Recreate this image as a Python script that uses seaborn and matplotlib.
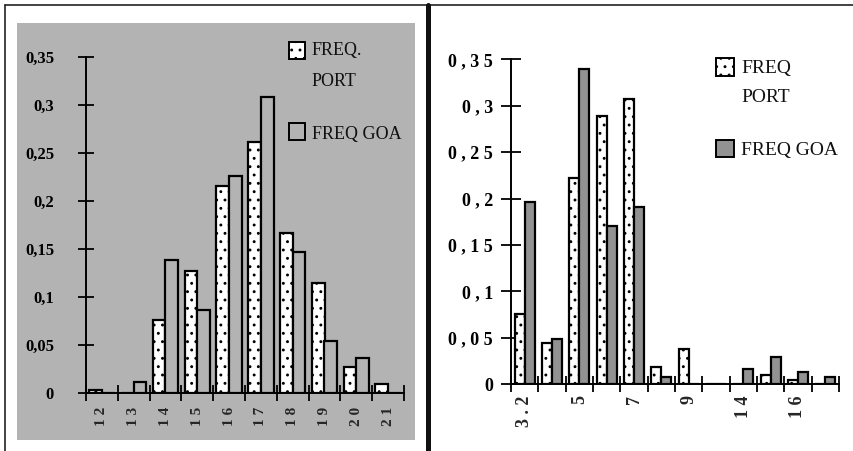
import matplotlib
matplotlib.use("Agg")
import matplotlib.pyplot as plt
import seaborn as sns
import pandas as pd
import numpy as np
from matplotlib.patches import Rectangle
from matplotlib.lines import Line2D

# ---------------- data ----------------
left_categories = ["12", "13", "14", "15", "16", "17", "18", "19", "20", "21"]
left_tick_labels = ["1 2", "1 3", "1 4", "1 5", "1 6", "1 7", "1 8", "1 9", "2 0", "2 1"]
left_port = [0.003, 0.0, 0.076, 0.127, 0.216, 0.262, 0.167, 0.114, 0.027, 0.009]
left_goa = [0.0, 0.011, 0.138, 0.086, 0.226, 0.309, 0.147, 0.054, 0.036, 0.0]
left_yticks = [0, 0.05, 0.1, 0.15, 0.2, 0.25, 0.3, 0.35]
left_ytick_labels = ["0", "0,05", "0,1", "0,15", "0,2", "0,25", "0,3", "0,35"]

right_categories = ["3.2", "4", "5", "6", "7", "8", "9", "10", "14", "15", "16", "17"]
right_tick_labels = ["3 . 2", "", "5", "", "7", "", "9", "", "1 4", "", "1 6", ""]
right_port = [0.076, 0.044, 0.222, 0.289, 0.307, 0.019, 0.038, 0.0, 0.0, 0.010, 0.005, 0.0]
right_goa = [0.196, 0.049, 0.340, 0.170, 0.191, 0.008, 0.0, 0.0, 0.017, 0.029, 0.013, 0.008]
right_yticks = [0, 0.05, 0.1, 0.15, 0.2, 0.25, 0.3, 0.35]
right_ytick_labels = ["0", "0 , 0 5", "0 , 1", "0 , 1 5", "0 , 2", "0 , 2 5", "0 , 3", "0 , 3 5"]

series_names = ["PORT", "GOA"]

# ---------------- style ----------------
sns.set_theme(style="white")
plt.rcParams["font.family"] = ["Liberation Serif", "DejaVu Serif"]
plt.rcParams["hatch.linewidth"] = 0.9

W, H = 854, 451
fig = plt.figure(figsize=(W / 100, H / 100), dpi=100)
fig.patch.set_facecolor("white")

def fx(px):
    return px / W

def fy(py):
    return 1 - py / H

BG_GRAY = "#b3b3b3"
GOA_DARK = "#929292"

# left panel grey background (behind the axes)
bg = Rectangle((fx(17), fy(440)), fx(415) - fx(17), fy(23) - fy(440),
               transform=fig.transFigure, facecolor=BG_GRAY, edgecolor="none", zorder=-5)
fig.add_artist(bg)
# frame lines
fig.add_artist(Line2D([fx(5), fx(5)], [fy(5), fy(451)], transform=fig.transFigure,
                      color="#222222", lw=1.2))
fig.add_artist(Line2D([fx(5), fx(854)], [fy(5), fy(5)], transform=fig.transFigure,
                      color="#222222", lw=1.2))
fig.add_artist(Line2D([fx(428), fx(428)], [fy(5), fy(451)], transform=fig.transFigure,
                      color="#111111", lw=3.6))


def make_df(cats, port, goa):
    return pd.DataFrame({
        "cat": cats * 2,
        "val": list(port) + list(goa),
        "series": ["PORT"] * len(cats) + ["GOA"] * len(cats),
    })


def draw_panel(ax, cats, port, goa, goa_color, goa_hatch, width, yticks, ylabels,
               xlabels, yfs, xfs, ypad, xpad, ylen):
    df = make_df(cats, port, goa)
    sns.barplot(data=df, x="cat", y="val", hue="series", order=cats,
                hue_order=series_names, palette={"PORT": "white", "GOA": goa_color},
                width=width, edgecolor="black", linewidth=1.6, saturation=1,
                legend=False, ax=ax, zorder=3)
    for bar in ax.containers[0]:
        bar.set_hatch("..")
        bar.set_facecolor("white")
    for bar in ax.containers[1]:
        bar.set_hatch(goa_hatch)
    n = len(cats)
    ax.set_xlim(-0.5, n - 0.5)
    ax.set_ylim(0, 0.35)
    ax.set_facecolor("none")
    ax.patch.set_visible(False)
    for s in ["top", "right"]:
        ax.spines[s].set_visible(False)
    for s in ["left", "bottom"]:
        ax.spines[s].set_color("black")
        ax.spines[s].set_linewidth(1.4)
    ax.spines["left"].set_bounds(0, 0.35)
    ax.set_yticks(yticks)
    ax.set_yticklabels(ylabels, fontsize=yfs, fontweight="bold")
    ax.set_xticks(range(n))
    ax.set_xticklabels(xlabels, rotation=90, fontsize=xfs, fontweight="bold")
    ax.set_xticks(np.arange(-0.5, n, 1.0), minor=True)
    ax.tick_params(axis="y", direction="inout", length=ylen, width=1.3, pad=ypad,
                   colors="black", left=True)
    ax.tick_params(axis="x", which="major", length=0, pad=xpad, bottom=True)
    ax.tick_params(axis="x", which="minor", direction="inout", length=11, width=1.3,
                   bottom=True, color="black")
    ax.set_xlabel("")
    ax.set_ylabel("")
    ax.grid(False)


# left axes: x 86..404, y(0)=392.7, y(0.35)=57.3
axL = fig.add_axes([fx(86), fy(392.7), fx(404) - fx(86), fy(57.3) - fy(392.7)])
draw_panel(axL, left_categories, left_port, left_goa, BG_GRAY, "", 0.8,
           left_yticks, left_ytick_labels, left_tick_labels, 12, 11, 17, 10, 12)

# right axes: x 511..839, y(0)=384.3, y(0.35)=59.3
axR = fig.add_axes([fx(511), fy(384.3), fx(839) - fx(511), fy(59.3) - fy(384.3)])
draw_panel(axR, right_categories, right_port, right_goa, GOA_DARK, "", 0.72,
           right_yticks, right_ytick_labels, right_tick_labels, 13, 13, 6, 8, 14)


# ---------------- legends (drawn in figure pixel coords) ----------------
def legend_entry(x0, y0, x1, y1, face, hatch, lines, tx, tys, fs):
    r = Rectangle((fx(x0), fy(y1)), fx(x1) - fx(x0), fy(y0) - fy(y1),
                  transform=fig.transFigure, facecolor=face, edgecolor="black",
                  hatch=hatch, linewidth=1.4, zorder=5)
    fig.add_artist(r)
    for txt, ty in zip(lines, tys):
        fig.text(fx(tx), fy(ty), txt, fontsize=fs, ha="left", va="center",
                 color="#111111", zorder=6)


legend_entry(289, 42, 305, 59, "white", "..", ["FREQ.", "PORT"], 312, [50, 81], 13)
legend_entry(289, 123, 305, 140, BG_GRAY, "", ["FREQ GOA"], 312, [134], 13)

legend_entry(716, 58, 734, 76, "white", "..", ["FREQ", "PORT"], 741, [69, 98], 14)
legend_entry(716, 140, 734, 157, GOA_DARK, "", ["FREQ GOA"], 741, [151], 14)

fig.savefig("out.png", dpi=100)
